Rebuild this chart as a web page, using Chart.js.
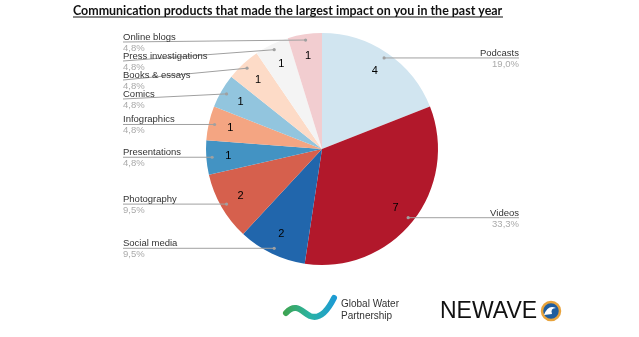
<!DOCTYPE html>
<html lang="en">
<head>
    <meta charset="UTF-8">
    <title>Communication products</title>
    <script src="https://cdn.jsdelivr.net/npm/chart.js"></script>
    <style>
        body { margin: 0; background: #fff; }
        canvas { display: block; }
    </style>
</head>
<body>
    <canvas id="chart" width="639" height="337"></canvas>

    <script>
        const categories = ['Podcasts', 'Videos', 'Social media', 'Photography', 'Presentations',
            'Infographics', 'Comics', 'Books & essays', 'Press investigations', 'Online blogs'];
        const counts = [4, 7, 2, 2, 1, 1, 1, 1, 1, 1];
        const sliceColors = ['#d1e5f0', '#b2182b', '#2166ac', '#d6604d', '#4393c3',
            '#f4a582', '#92c5de', '#fddbc7', '#f4f4f4', '#f2cdd0'];
        const titleText = 'Communication products that made the largest impact on you in the past year';

        const total = counts.reduce((a, b) => a + b, 0);
        const pct = v => (v / total * 100).toFixed(1).replace('.', ',') + '%';

        // leader lines, value labels and category labels
        const labelPlugin = {
            id: 'labels',
            afterDatasetsDraw(chart) {
                const ctx = chart.ctx;
                const arcs = chart.getDatasetMeta(0).data;
                const left = [], right = [];

                arcs.forEach((arc, i) => {
                    const p = arc.getProps(['x', 'y', 'startAngle', 'endAngle', 'outerRadius']);
                    const mid = (p.startAngle + p.endAngle) / 2;
                    const item = {
                        i,
                        dx: p.x + Math.cos(mid) * p.outerRadius * 0.95,
                        dy: p.y + Math.sin(mid) * p.outerRadius * 0.95,
                        vx: p.x + Math.cos(mid) * p.outerRadius * 0.81,
                        vy: p.y + Math.sin(mid) * p.outerRadius * 0.81
                    };
                    (Math.cos(mid) < 0 ? left : right).push(item);

                    ctx.save();
                    ctx.fillStyle = '#000';
                    ctx.font = '11px "Liberation Sans", Arial, sans-serif';
                    ctx.textAlign = 'center';
                    ctx.textBaseline = 'middle';
                    ctx.fillText(counts[i], item.vx, item.vy);
                    ctx.restore();
                });

                // spread left labels top-down
                left.sort((a, b) => a.dy - b.dy);
                let prev = 23;
                left.forEach(it => {
                    it.ly = Math.max(it.dy, prev + 19);
                    prev = it.ly;
                });
                right.forEach(it => { it.ly = it.dy; });

                ctx.save();
                ctx.strokeStyle = '#a0a0a0';
                ctx.lineWidth = 1;
                ctx.font = '9.5px "Liberation Sans", Arial, sans-serif';
                ctx.textBaseline = 'alphabetic';

                left.forEach(it => {
                    ctx.beginPath();
                    ctx.moveTo(123, it.ly);
                    ctx.lineTo(it.dx, it.dy);
                    ctx.stroke();
                    ctx.textAlign = 'left';
                    ctx.fillStyle = '#333';
                    ctx.fillText(categories[it.i], 123, it.ly - 2);
                    ctx.fillStyle = '#aaa';
                    ctx.fillText(pct(counts[it.i]), 123, it.ly + 9);
                });
                right.forEach(it => {
                    ctx.beginPath();
                    ctx.moveTo(it.dx, it.ly);
                    ctx.lineTo(519, it.ly);
                    ctx.stroke();
                    ctx.textAlign = 'right';
                    ctx.fillStyle = '#333';
                    ctx.fillText(categories[it.i], 519, it.ly - 2);
                    ctx.fillStyle = '#aaa';
                    ctx.fillText(pct(counts[it.i]), 519, it.ly + 9);
                });

                ctx.fillStyle = '#a0a0a0';
                left.concat(right).forEach(it => {
                    ctx.beginPath();
                    ctx.arc(it.dx, it.dy, 1.6, 0, Math.PI * 2);
                    ctx.fill();
                });
                ctx.restore();
            }
        };

        // underlined title and the two logos
        const decorPlugin = {
            id: 'decor',
            afterDraw(chart) {
                const ctx = chart.ctx;
                ctx.save();

                ctx.font = 'bold 13px Lato, sans-serif';
                const w0 = ctx.measureText(titleText).width;
                const size = 13 * 430 / w0;
                ctx.font = `bold ${size}px Lato, sans-serif`;
                ctx.fillStyle = '#111';
                ctx.textAlign = 'left';
                ctx.textBaseline = 'alphabetic';
                ctx.fillText(titleText, 73, 15);
                ctx.fillRect(73, 16.5, 430, 1);

                // Global Water Partnership swoosh
                const grad = ctx.createLinearGradient(283, 0, 336, 0);
                grad.addColorStop(0, '#3fa34d');
                grad.addColorStop(0.5, '#2bb3a3');
                grad.addColorStop(1, '#1c9ad6');
                ctx.strokeStyle = grad;
                ctx.lineCap = 'round';
                ctx.lineWidth = 6;
                ctx.beginPath();
                ctx.moveTo(286, 313);
                ctx.bezierCurveTo(296, 302, 302, 312, 310, 316);
                ctx.bezierCurveTo(320, 320, 328, 310, 334, 298);
                ctx.stroke();
                ctx.fillStyle = '#333';
                ctx.font = '10px "Liberation Sans", Arial, sans-serif';
                ctx.fillText('Global Water', 341, 307);
                ctx.fillText('Partnership', 341, 319);

                // NEWAVE
                ctx.fillStyle = '#111';
                ctx.font = '23px "Liberation Sans", Arial, sans-serif';
                ctx.fillText('NEWAVE', 440, 318);
                ctx.beginPath();
                ctx.arc(551, 311, 9, 0, Math.PI * 2);
                ctx.fillStyle = '#1f5d9e';
                ctx.fill();
                ctx.lineWidth = 2.5;
                ctx.strokeStyle = '#e8a33c';
                ctx.stroke();
                ctx.fillStyle = '#fff';
                ctx.beginPath();
                ctx.moveTo(544, 315);
                ctx.quadraticCurveTo(548, 304, 556, 308);
                ctx.quadraticCurveTo(550, 308, 552, 314);
                ctx.closePath();
                ctx.fill();
                ctx.restore();
            }
        };

        new Chart(document.getElementById('chart').getContext('2d'), {
            type: 'pie',
            data: {
                labels: categories,
                datasets: [{
                    data: counts,
                    backgroundColor: sliceColors,
                    borderWidth: 0
                }]
            },
            options: {
                responsive: false,
                animation: false,
                layout: { padding: { left: 206, right: 201, top: 33, bottom: 72 } },
                plugins: {
                    legend: { display: false },
                    tooltip: { enabled: false }
                }
            },
            plugins: [labelPlugin, decorPlugin]
        });
    </script>
</body>
</html>
